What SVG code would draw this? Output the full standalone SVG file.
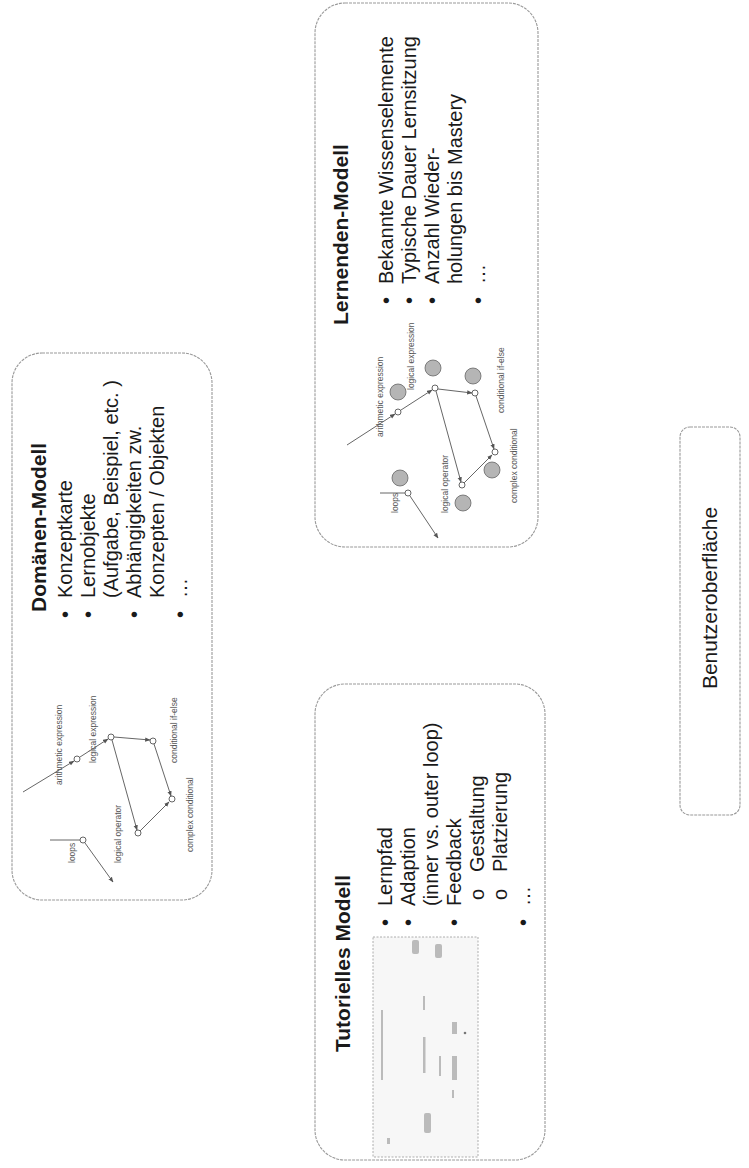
<svg xmlns="http://www.w3.org/2000/svg" width="749" height="1168" viewBox="0 0 749 1168">
<style>
.box{fill:none;stroke:#9a9a9a;stroke-width:1.1;stroke-dasharray:3 1}
.t{font-family:"Liberation Sans",Arial,sans-serif;fill:#1a1a1a}
.ti{font-family:"Liberation Sans",Arial,sans-serif;fill:#1a1a1a;font-weight:bold;font-size:21px}
.b{font-size:20px}
.s{font-family:"Liberation Sans",Arial,sans-serif;fill:#555;font-size:8.5px}
.ln{stroke:#555;stroke-width:0.9;fill:none}
.nd{fill:#fff;stroke:#555;stroke-width:0.9}
.big{fill:#b5b5b5;stroke:#666;stroke-width:0.8}
.mk{fill:#bbb}
</style>
<defs>
<marker id="ah" viewBox="0 0 10 10" refX="9" refY="5" markerWidth="6" markerHeight="6" orient="auto"><path d="M0,1 L10,5 L0,9 z" fill="#555"/></marker>
</defs>
<rect width="749" height="1168" fill="#ffffff"/>

<g id="domaenen-modell">
<rect class="box" x="12" y="353" width="200" height="547" rx="30"/>
<text class="ti" transform="translate(46 612) rotate(-90)">Domänen-Modell</text>
<g class="t b">
<text transform="translate(72 618) rotate(-90)">•</text>
<text transform="translate(72 598) rotate(-90)">Konzeptkarte</text>
<text transform="translate(95 618) rotate(-90)">•</text>
<text transform="translate(95 598) rotate(-90)">Lernobjekte</text>
<text transform="translate(118 598) rotate(-90)">(Aufgabe, Beispiel, etc. )</text>
<text transform="translate(141 618) rotate(-90)">•</text>
<text transform="translate(141 598) rotate(-90)">Abhängigkeiten zw.</text>
<text transform="translate(164 598) rotate(-90)">Konzepten / Objekten</text>
<text transform="translate(187 618) rotate(-90)">•</text>
<text transform="translate(187 598) rotate(-90)">…</text>
</g>
<g id="domaenen-map">
<line class="ln" x1="23" y1="792" x2="74" y2="761" marker-end="url(#ah)"/>
<line class="ln" x1="80" y1="757" x2="108" y2="739" marker-end="url(#ah)"/>
<line class="ln" x1="114" y1="737" x2="150" y2="740" marker-end="url(#ah)"/>
<line class="ln" x1="154" y1="744" x2="171" y2="796" marker-end="url(#ah)"/>
<line class="ln" x1="112" y1="740" x2="137" y2="830" marker-end="url(#ah)"/>
<line class="ln" x1="140" y1="831" x2="169" y2="802" marker-end="url(#ah)"/>
<line class="ln" x1="50" y1="840" x2="80" y2="840"/>
<line class="ln" x1="85" y1="843" x2="113" y2="882" marker-end="url(#ah)"/>
<circle class="nd" cx="77" cy="759" r="3"/>
<circle class="nd" cx="111" cy="737" r="3"/>
<circle class="nd" cx="153" cy="741" r="3"/>
<circle class="nd" cx="172" cy="799" r="3"/>
<circle class="nd" cx="138" cy="833" r="3"/>
<circle class="nd" cx="83" cy="840" r="3"/>
<text class="s" transform="translate(62 785) rotate(-90)">arithmetic expression</text>
<text class="s" transform="translate(96 763) rotate(-90)">logical expression</text>
<text class="s" transform="translate(121 863) rotate(-90)">logical operator</text>
<text class="s" transform="translate(75 863) rotate(-90)">loops</text>
<text class="s" transform="translate(177 763) rotate(-90)">conditional if-else</text>
<text class="s" transform="translate(193 852) rotate(-90)">complex conditional</text>
</g>
</g>

<g id="lernenden-modell">
<rect class="box" x="315" y="3" width="223" height="544" rx="30"/>
<text class="ti" transform="translate(348 325) rotate(-90)">Lernenden-Modell</text>
<g class="t b">
<text transform="translate(393 304) rotate(-90)">•</text>
<text transform="translate(393 284) rotate(-90)">Bekannte Wissenselemente</text>
<text transform="translate(416 304) rotate(-90)">•</text>
<text transform="translate(416 284) rotate(-90)">Typische Dauer Lernsitzung</text>
<text transform="translate(439 304) rotate(-90)">•</text>
<text transform="translate(439 284) rotate(-90)">Anzahl Wieder-</text>
<text transform="translate(462 284) rotate(-90)">holungen bis Mastery</text>
<text transform="translate(485 304) rotate(-90)">•</text>
<text transform="translate(485 284) rotate(-90)">…</text>
</g>
<g id="lernenden-map">
<line class="ln" x1="347" y1="445" x2="395" y2="414" marker-end="url(#ah)"/>
<line class="ln" x1="401" y1="410" x2="432" y2="390" marker-end="url(#ah)"/>
<line class="ln" x1="438" y1="389" x2="472" y2="393" marker-end="url(#ah)"/>
<line class="ln" x1="476" y1="396" x2="494" y2="449" marker-end="url(#ah)"/>
<line class="ln" x1="436" y1="391" x2="461" y2="482" marker-end="url(#ah)"/>
<line class="ln" x1="464" y1="483" x2="492" y2="455" marker-end="url(#ah)"/>
<line class="ln" x1="380" y1="493" x2="405" y2="493"/>
<line class="ln" x1="410" y1="496" x2="438" y2="538" marker-end="url(#ah)"/>
<circle class="nd" cx="398" cy="412" r="3"/>
<circle class="nd" cx="435" cy="388" r="3"/>
<circle class="nd" cx="475" cy="393" r="3"/>
<circle class="nd" cx="495" cy="452" r="3"/>
<circle class="nd" cx="462" cy="485" r="3"/>
<circle class="nd" cx="408" cy="493" r="3"/>
<circle class="big" cx="398" cy="392" r="8"/>
<circle class="big" cx="433" cy="368" r="8"/>
<circle class="big" cx="473" cy="376" r="8"/>
<circle class="big" cx="492" cy="470" r="8"/>
<circle class="big" cx="463" cy="503" r="8"/>
<circle class="big" cx="400" cy="478" r="8"/>
<text class="s" transform="translate(383 437) rotate(-90)">arithmetic expression</text>
<text class="s" transform="translate(414 390) rotate(-90)">logical expression</text>
<text class="s" transform="translate(448 513) rotate(-90)">logical operator</text>
<text class="s" transform="translate(398 513) rotate(-90)">loops</text>
<text class="s" transform="translate(504 413) rotate(-90)">conditional if-else</text>
<text class="s" transform="translate(517 503) rotate(-90)">complex conditional</text>
</g>
</g>

<g id="tutorielles-modell">
<rect class="box" x="315" y="684" width="230" height="476" rx="30"/>
<text class="ti" transform="translate(350 1052) rotate(-90)">Tutorielles Modell</text>
<g class="t b">
<text transform="translate(392 926) rotate(-90)">•</text>
<text transform="translate(392 906) rotate(-90)">Lernpfad</text>
<text transform="translate(415 926) rotate(-90)">•</text>
<text transform="translate(415 906) rotate(-90)">Adaption</text>
<text transform="translate(438 906) rotate(-90)">(inner vs. outer loop)</text>
<text transform="translate(461 926) rotate(-90)">•</text>
<text transform="translate(461 906) rotate(-90)">Feedback</text>
<text transform="translate(484 900) rotate(-90)">o</text>
<text transform="translate(484 872) rotate(-90)">Gestaltung</text>
<text transform="translate(507 900) rotate(-90)">o</text>
<text transform="translate(507 872) rotate(-90)">Platzierung</text>
<text transform="translate(530 926) rotate(-90)">•</text>
<text transform="translate(530 906) rotate(-90)">…</text>
</g>
<g id="tutor-screenshot">
<rect x="373" y="937" width="105" height="220" fill="#f7f7f7" stroke="#9a9a9a" stroke-width="0.8" stroke-dasharray="2 1.5"/>
<rect class="mk" x="381" y="1010" width="2" height="70"/>
<rect class="mk" x="423" y="1037" width="2.5" height="36"/>
<rect class="mk" x="412" y="940" width="7" height="14" rx="2"/>
<rect class="mk" x="435" y="944" width="7" height="14" rx="2"/>
<rect class="mk" x="423" y="996" width="2" height="14"/>
<rect class="mk" x="439" y="1056" width="2" height="20"/>
<rect class="mk" x="452" y="1056" width="5" height="24"/>
<rect class="mk" x="452" y="1022" width="5" height="12"/>
<circle cx="465" cy="1033" r="1.3" fill="#777"/>
<rect class="mk" x="452" y="1090" width="2" height="8"/>
<rect class="mk" x="424" y="1113" width="7" height="20" rx="2"/>
<rect class="mk" x="387" y="1138" width="3" height="6"/>
</g>
</g>

<g id="benutzeroberflaeche">
<rect class="box" x="680" y="427" width="60" height="388" rx="10"/>
<text class="t" font-size="21" text-anchor="middle" transform="translate(717 598) rotate(-90)">Benutzeroberfläche</text>
</g>

<g id="connectors"></g>
</svg>
